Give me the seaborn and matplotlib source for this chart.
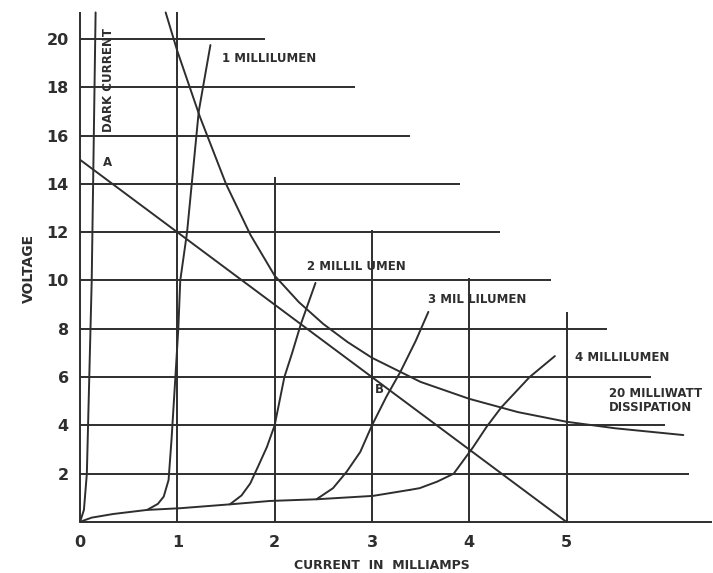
import pandas as pd
import seaborn as sns
import matplotlib.pyplot as plt

# grid is a staircase: each line stops at its own length
h_levels = [0, 2, 4, 6, 8, 10, 12, 14, 16, 18, 20]
h_ends = [6.49, 6.26, 6.01, 5.87, 5.42, 4.84, 4.32, 3.90, 3.39, 2.83, 1.90]
v_levels = [0, 1, 2, 3, 4, 5]
v_tops = [21.1, 21.1, 14.3, 12.1, 10.1, 8.7]

# dark current
dark_i = [0.0, 0.04, 0.07, 0.12, 0.16]
dark_v = [0.0, 0.5, 2.0, 10.0, 21.1]

# common low-voltage base of the illumination curves
base_i = [0.0, 0.03, 0.12, 0.34, 0.69, 1.03, 1.54, 1.95, 2.43, 3.01, 3.39]
base_v = [0.0, 0.05, 0.18, 0.33, 0.50, 0.57, 0.73, 0.87, 0.94, 1.08, 1.33]

lm1_i = [0.69, 0.80, 0.86, 0.91, 0.94, 0.98, 1.01, 1.03, 1.10, 1.22, 1.34]
lm1_v = [0.50, 0.75, 1.05, 1.74, 3.40, 6.00, 8.00, 10.0, 12.0, 17.0, 19.75]

lm2_i = [1.54, 1.66, 1.75, 1.83, 1.92, 2.00, 2.05, 2.10, 2.18, 2.27, 2.42]
lm2_v = [0.73, 1.10, 1.60, 2.30, 3.10, 4.00, 5.00, 6.00, 7.00, 8.20, 9.90]

lm3_i = [2.43, 2.60, 2.74, 2.88, 3.00, 3.15, 3.29, 3.45, 3.58]
lm3_v = [0.94, 1.40, 2.08, 2.90, 4.00, 5.20, 6.20, 7.50, 8.70]

lm4_i = [3.39, 3.49, 3.67, 3.84, 4.04, 4.18, 4.33, 4.62, 4.88]
lm4_v = [1.33, 1.40, 1.67, 2.00, 3.10, 3.95, 4.75, 6.00, 6.87]

# load line A-B
load_i = [0.0, 5.0]
load_v = [15.0, 0.0]

# 20 milliwatt dissipation
diss_i = [0.88, 1.0, 1.23, 1.5, 1.75, 2.0, 2.25, 2.5, 2.75, 3.0, 3.5, 4.0, 4.5, 5.0, 5.5, 6.2]
diss_v = [21.1, 19.5, 16.8, 14.0, 11.9, 10.2, 9.1, 8.2, 7.45, 6.8, 5.8, 5.1, 4.55, 4.15, 3.88, 3.6]

y_ticks = [2, 4, 6, 8, 10, 12, 14, 16, 18, 20]
x_ticks = [0, 1, 2, 3, 4, 5]

sns.set_style("white")
plt.rcParams['font.family'] = ['DejaVu Sans']
INK = '#2e2e2e'
LW = 1.4

fig = plt.figure(figsize=(7.13, 5.73), dpi=100)
ax = fig.add_axes([0.0986, 0.0764, 0.9007, 0.9103])

ax.hlines(h_levels, 0, h_ends, color=INK, lw=LW)
ax.vlines(v_levels, 0, v_tops, color=INK, lw=LW)

curves = [(dark_i, dark_v), (base_i, base_v), (lm1_i, lm1_v), (lm2_i, lm2_v),
          (lm3_i, lm3_v), (lm4_i, lm4_v), (load_i, load_v), (diss_i, diss_v)]
for xs, ys in curves:
    df = pd.DataFrame({'i': xs, 'v': ys})
    sns.lineplot(data=df, x='i', y='v', sort=False, estimator=None,
                 color=INK, lw=LW, ax=ax)

lab = dict(fontsize=8.5, fontweight='bold', color=INK, va='center', ha='left')
ax.text(1.46, 19.2, '1 MILLILUMEN', **lab)
ax.text(2.33, 10.6, '2 MILLIL UMEN', **lab)
ax.text(3.58, 9.23, '3 MIL LILUMEN', **lab)
ax.text(5.09, 6.83, '4 MILLILUMEN', **lab)
ax.text(5.44, 5.03, '20 MILLIWATT\nDISSIPATION', linespacing=1.1, **lab)
ax.text(0.24, 14.87, 'A', **lab)
ax.text(3.03, 5.47, 'B', **lab)
ax.text(0.29, 18.3, 'DARK CURRENT', fontsize=8.5, fontweight='bold', color=INK,
        rotation=90, ha='center', va='center')

ax.set_xlim(-0.1, 6.5)
ax.set_ylim(-0.3, 21.3)
ax.set_xticks(x_ticks)
ax.set_yticks(y_ticks)
ax.tick_params(length=0, labelsize=11.5, labelcolor=INK)
ax.tick_params(axis='x', pad=4)
ax.tick_params(axis='y', pad=1)
for t in ax.get_xticklabels() + ax.get_yticklabels():
    t.set_fontweight('bold')
for s in ax.spines.values():
    s.set_visible(False)

ax.set_xlabel('CURRENT  IN  MILLIAMPS', fontsize=9, fontweight='bold', color=INK)
ax.set_ylabel('VOLTAGE', fontsize=10, fontweight='bold', color=INK)
ax.xaxis.set_label_coords(0.485, -0.057)
ax.yaxis.set_label_coords(-0.053, 0.5)

fig.savefig('out.png', dpi=100, facecolor='white')
plt.close(fig)
